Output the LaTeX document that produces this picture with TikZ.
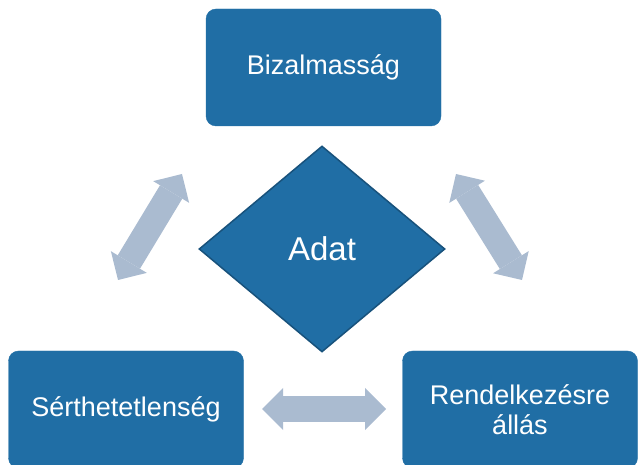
\documentclass[tikz,border=0pt]{standalone}
\usepackage{fontspec}
\setmainfont{Liberation Sans}
\usetikzlibrary{shapes.geometric,arrows.meta}
\definecolor{kek}{RGB}{32,110,165}
\definecolor{sotet}{RGB}{24,82,124}
\definecolor{szurke}{RGB}{170,187,208}

\begin{document}
\begin{tikzpicture}[x=1pt,y=-1pt]
	\tikzstyle{doboz}=[rectangle,rounded corners=10pt,fill=kek,draw=kek,text=white,minimum width=235pt,minimum height=117pt,inner sep=0pt,align=center,font=\fontsize{27}{30}\selectfont];
	\tikzstyle{romb}=[diamond,fill=kek,draw=sotet,line width=1.5pt,text=white,minimum width=246pt,minimum height=206pt,inner sep=0pt,font=\fontsize{33}{36}\selectfont];
	\tikzstyle{nyil}=[draw=szurke,line width=26pt,{Triangle[width=42pt,length=21pt,line width=0pt]}-{Triangle[width=42pt,length=21pt,line width=0pt]}];
%<--------------------------------------------------------------------------->%

	\clip (0,0) rectangle (638,465);
	%% boxes
	\node[doboz] (bizalom) at (323.5,67.5)  {Bizalmasság};
	\node[doboz] (serthet) at (126,409.5)   {Sérthetetlenség};
	\node[doboz] (rendel)  at (520,409.5)   {Rendelkezésre\\állás};
	\node[romb]  (adat)    at (322,249)     {Adat};
	%% arrow ends
	\coordinate (BS) at (182,174);
	\coordinate (SB) at (118,280);
	\coordinate (BR) at (456,174);
	\coordinate (RB) at (522,280);
	\coordinate (SR) at (262,409);
	\coordinate (RS) at (386,409);
	%% arrows
	\draw[nyil] (BS) -- (SB);
	\draw[nyil] (BR) -- (RB);
	\draw[nyil] (SR) -- (RS);
\end{tikzpicture}
\end{document}
